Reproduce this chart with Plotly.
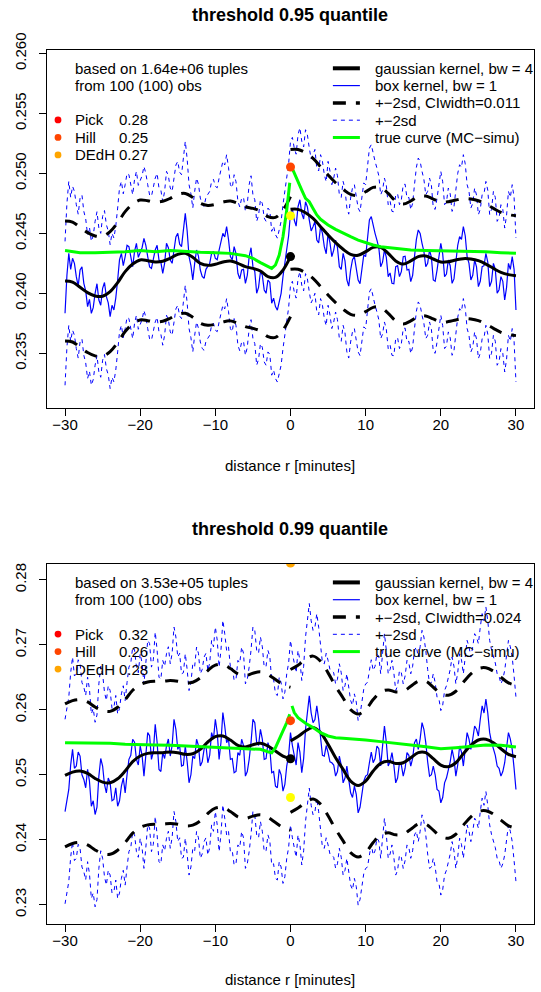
import numpy as np
import plotly.graph_objects as go

# ---------------- data ----------------
# box-kernel estimate is read at every 0.25 minute: values on the half-minute grid
# and the values half-way between them (read separately)
r_box = np.linspace(-30, 30, 241)
r_gl = list(range(-30, 1))
r_gr = list(range(0, 31))

# ===== threshold 0.95 panel =====
box95_grid = [0.23833, 0.24333, 0.24292, 0.24139, 0.24194, 0.24083, 0.23889, 0.23833, 0.24000, 0.23944,
              0.24042, 0.23972, 0.23806, 0.23861, 0.24111, 0.24333, 0.24306, 0.24389, 0.24222, 0.24417,
              0.24333, 0.24458, 0.24306, 0.24208, 0.24361, 0.24278, 0.24167, 0.24417, 0.24278, 0.24361,
              0.24500, 0.24389, 0.24667, 0.24306, 0.24111, 0.24361, 0.24194, 0.24125, 0.24222, 0.24333,
              0.24292, 0.24361, 0.24500, 0.24556, 0.24306, 0.24389, 0.24167, 0.24194, 0.24083, 0.24306,
              0.24222, 0.24000, 0.24180, 0.24028, 0.24111, 0.23917, 0.23889, 0.23944, 0.24139, 0.24361,
              0.24667,
              0.24611, 0.24722, 0.24667, 0.24764, 0.24611, 0.24556, 0.24444, 0.24556, 0.24389, 0.24500,
              0.24306, 0.24444, 0.24222, 0.24333, 0.24111, 0.24194, 0.24306, 0.24111, 0.24194, 0.24306,
              0.24611, 0.24556, 0.24444, 0.24222, 0.24361, 0.24139, 0.24083, 0.24222, 0.24139, 0.24306,
              0.24194, 0.24097, 0.24306, 0.24528, 0.24417, 0.24222, 0.24361, 0.24111, 0.24194, 0.24417,
              0.24139, 0.24278, 0.24083, 0.24250, 0.24472, 0.24556, 0.24306, 0.24111, 0.24278, 0.24056,
              0.24222, 0.24333, 0.24056, 0.24250, 0.24000, 0.24139, 0.23944, 0.24250, 0.24306, 0.23861]
box95_mid = [0.24150, 0.24200, 0.24250, 0.24060, 0.24220, 0.24020, 0.23950, 0.23880, 0.24080, 0.23900,
             0.24090, 0.23920, 0.23900, 0.23960, 0.24280, 0.24230, 0.24400, 0.24300, 0.24350, 0.24300,
             0.24380, 0.24400, 0.24220, 0.24300, 0.24400, 0.24260, 0.24250, 0.24380, 0.24250, 0.24470,
             0.24410, 0.24550, 0.24520, 0.24230, 0.24250, 0.24310, 0.24140, 0.24200, 0.24250, 0.24350,
             0.24280, 0.24420, 0.24470, 0.24450, 0.24280, 0.24330, 0.24120, 0.24200, 0.24150, 0.24380,
             0.24180, 0.24050, 0.24150, 0.24000, 0.24090, 0.23960, 0.23860, 0.24000, 0.24250, 0.24480,
             0.24700, 0.24560, 0.24780, 0.24620, 0.24720, 0.24520, 0.24600, 0.24420, 0.24500, 0.24330,
             0.24420, 0.24360, 0.24380, 0.24200, 0.24270, 0.24060, 0.24280, 0.24200, 0.24080, 0.24320,
             0.24450, 0.24640, 0.24500, 0.24380, 0.24260, 0.24300, 0.24170, 0.24080, 0.24230, 0.24180,
             0.24310, 0.24200, 0.24150, 0.24450, 0.24500, 0.24350, 0.24250, 0.24300, 0.24100, 0.24320,
             0.24330, 0.24160, 0.24230, 0.24120, 0.24400, 0.24450, 0.24480, 0.24250, 0.24150, 0.24220,
             0.24100, 0.24230, 0.24260, 0.24100, 0.24200, 0.24030, 0.24100, 0.24050, 0.24200, 0.24200]
box95_sd = 0.0030
gauss95_l = [0.24103, 0.24094, 0.24050, 0.24006, 0.23978, 0.23975, 0.24014, 0.24089, 0.24181, 0.24244,
             0.24278, 0.24272, 0.24261, 0.24267, 0.24292, 0.24325, 0.24333, 0.24300, 0.24250, 0.24233,
             0.24242, 0.24261, 0.24270, 0.24250, 0.24222, 0.24208, 0.24186, 0.24139, 0.24133, 0.24194,
             0.24306]
gauss95_r = [0.24700, 0.24700, 0.24672, 0.24625, 0.24556, 0.24486, 0.24422, 0.24367, 0.24325, 0.24317,
             0.24347, 0.24383, 0.24383, 0.24333, 0.24270, 0.24244, 0.24270, 0.24306, 0.24311, 0.24286,
             0.24261, 0.24264, 0.24278, 0.24289, 0.24286, 0.24272, 0.24244, 0.24208, 0.24175, 0.24156,
             0.24147]
gauss95_sd = 0.0025
true95_lx = [-30, -28, -26, -24, -22, -20, -18, -16, -14, -12, -10, -8, -6, -5, -4, -3, -2.5, -2, -1.5, -1, -0.5, -0.1]
true95_ly = [0.24356, 0.24339, 0.24339, 0.24342, 0.24347, 0.24356, 0.24347, 0.24356, 0.24347, 0.24342,
             0.24339, 0.24333, 0.24314, 0.24292, 0.24256, 0.24222, 0.24208, 0.24236, 0.24319, 0.24472,
             0.24694, 0.24922]
true95_rx = [0.1, 0.5, 1, 1.5, 2, 2.5, 3, 3.5, 4, 5, 6, 7, 8, 9, 10, 11, 12, 13, 14, 16, 18, 20, 22, 24, 26, 28, 30]
true95_ry = [0.25060, 0.25000, 0.24930, 0.24861, 0.24792, 0.24764, 0.24708, 0.24653, 0.24617, 0.24570,
             0.24533, 0.24500, 0.24472, 0.24444, 0.24422, 0.24403, 0.24389, 0.24381, 0.24372, 0.24361,
             0.24356, 0.24353, 0.24356, 0.24347, 0.24347, 0.24339, 0.24333]
pts95 = {"black": 0.24306, "#FFFF00": 0.24647, "#FF4500": 0.25053}

# ===== threshold 0.99 panel =====
box99_grid = [0.24434, 0.24774, 0.25391, 0.25134, 0.25288, 0.24928, 0.25082, 0.24516, 0.24388, 0.24979,
              0.25134, 0.24722, 0.24876, 0.24619, 0.24516, 0.24825, 0.24722, 0.25237, 0.25546, 0.25237,
              0.25443, 0.24979, 0.25648, 0.25237, 0.25777, 0.25082, 0.25340, 0.25443, 0.25288, 0.25854,
              0.25391, 0.25134, 0.25443, 0.24876, 0.25288, 0.25546, 0.25134, 0.25391, 0.25185, 0.25648,
              0.25854, 0.25237, 0.25957, 0.25494, 0.25237, 0.25031, 0.25340, 0.25546, 0.24979, 0.25237,
              0.25854, 0.25494, 0.25700, 0.25237, 0.25494, 0.25031, 0.24825, 0.25082, 0.24748, 0.25134,
              0.25648,
              0.25288, 0.25494, 0.25031, 0.25700, 0.26215, 0.25803, 0.26060, 0.25546, 0.25288, 0.25340,
              0.25185, 0.24979, 0.25288, 0.24876, 0.25134, 0.24722, 0.24825, 0.24413, 0.24722, 0.24979,
              0.25185, 0.25185, 0.25443, 0.25134, 0.25751, 0.25134, 0.25340, 0.24876, 0.25185, 0.24979,
              0.25340, 0.25134, 0.25494, 0.25391, 0.25803, 0.25494, 0.24979, 0.25134, 0.24774, 0.24568,
              0.24876, 0.25082, 0.25391, 0.24979, 0.25443, 0.25134, 0.25648, 0.25391, 0.25751, 0.25597,
              0.26060, 0.26163, 0.25648, 0.25391, 0.25134, 0.24979, 0.25185, 0.25648, 0.25391, 0.24774]
box99_mid = [0.24600, 0.25150, 0.25100, 0.25350, 0.25000, 0.24800, 0.24900, 0.24600, 0.24500, 0.25250,
             0.24850, 0.24950, 0.24600, 0.24800, 0.24600, 0.24950, 0.25000, 0.25300, 0.25500, 0.25150,
             0.25300, 0.25300, 0.25600, 0.25350, 0.25500, 0.25050, 0.25250, 0.25550, 0.25450, 0.25700,
             0.25450, 0.25150, 0.25200, 0.25000, 0.25250, 0.25450, 0.25200, 0.25450, 0.25300, 0.25550,
             0.25650, 0.25500, 0.25750, 0.25550, 0.25250, 0.25050, 0.25300, 0.25450, 0.25050, 0.25500,
             0.25800, 0.25450, 0.25550, 0.25250, 0.25400, 0.25050, 0.24800, 0.25000, 0.24850, 0.25300,
             0.25450, 0.25150, 0.25350, 0.25250, 0.25950, 0.25950, 0.25850, 0.25850, 0.25300, 0.25450,
             0.25200, 0.25150, 0.25050, 0.25150, 0.24950, 0.24900, 0.24650, 0.24700, 0.24500, 0.24900,
             0.25000, 0.25350, 0.25250, 0.25400, 0.25400, 0.25500, 0.25200, 0.25150, 0.24950, 0.25150,
             0.25100, 0.25300, 0.25250, 0.25550, 0.25550, 0.25700, 0.25200, 0.25000, 0.25000, 0.24750,
             0.24650, 0.24950, 0.25200, 0.25250, 0.25150, 0.25350, 0.25350, 0.25550, 0.25550, 0.25700,
             0.25850, 0.25950, 0.25950, 0.25500, 0.25300, 0.25100, 0.25050, 0.25450, 0.25550, 0.25100]
box99_sd = 0.0071
gauss99_l = [0.24990, 0.25041, 0.25057, 0.25021, 0.24943, 0.24887, 0.24876, 0.24938, 0.25057, 0.25201,
             0.25288, 0.25329, 0.25340, 0.25340, 0.25350, 0.25340, 0.25314, 0.25324, 0.25391, 0.25504,
             0.25587, 0.25597, 0.25535, 0.25453, 0.25427, 0.25463, 0.25484, 0.25443, 0.25365, 0.25288,
             0.25247]
gauss99_r = [0.25520, 0.25587, 0.25674, 0.25726, 0.25648, 0.25468, 0.25262, 0.25082, 0.24902, 0.24835,
             0.24902, 0.25057, 0.25175, 0.25206, 0.25175, 0.25185, 0.25262, 0.25340, 0.25340, 0.25247,
             0.25149, 0.25124, 0.25185, 0.25324, 0.25453, 0.25535, 0.25546, 0.25494, 0.25401, 0.25314,
             0.25278]
gauss99_sd = 0.0055
true99_lx = [-30, -28, -26, -24, -22, -20, -18, -16, -14, -12, -10, -8, -6, -4, -3, -2.5, -2, -1.5, -1, -0.5, -0.1]
true99_ly = [0.25494, 0.25494, 0.25484, 0.25484, 0.25468, 0.25468, 0.25458, 0.25453, 0.25443, 0.25432,
             0.25417, 0.25407, 0.25401, 0.25391, 0.25355, 0.25340, 0.25417, 0.25556, 0.25674, 0.25803,
             0.25932]
true99_rx = [0.2, 0.5, 1, 2, 3, 4, 5, 6, 7, 8, 10, 12, 14, 16, 18, 20, 22, 24, 26, 28, 30]
true99_ry = [0.26060, 0.25957, 0.25880, 0.25793, 0.25726, 0.25648, 0.25597, 0.25571, 0.25561, 0.25556,
             0.25535, 0.25510, 0.25479, 0.25458, 0.25432, 0.25401, 0.25417, 0.25443, 0.25458, 0.25453,
             0.25427]
pts99 = {"black": 0.25247, "#FFFF00": 0.24650, "#FF4500": 0.25833, "#FFA500": 0.28260}


def merge(grid, mid):
    out = np.empty(len(grid) + len(mid))
    out[0::2] = grid
    out[1::2] = mid
    return out


panels = [
    dict(title="threshold 0.95 quantile", box=merge(box95_grid, box95_mid), bsd=box95_sd,
         gl=gauss95_l, gr=gauss95_r, gsd=gauss95_sd, tlx=true95_lx, tly=true95_ly,
         trx=true95_rx, trY=true95_ry, pts=pts95,
         info=["based on 1.64e+06 tuples", "from 100 (100) obs"],
         est=[("Pick", "0.28"), ("Hill", "0.25"), ("DEdH", "0.27")], ciw="0.011"),
    dict(title="threshold 0.99 quantile", box=merge(box99_grid, box99_mid), bsd=box99_sd,
         gl=gauss99_l, gr=gauss99_r, gsd=gauss99_sd, tlx=true99_lx, tly=true99_ly,
         trx=true99_rx, trY=true99_ry, pts=pts99,
         info=["based on 3.53e+05 tuples", "from 100 (100) obs"],
         est=[("Pick", "0.32"), ("Hill", "0.26"), ("DEdH", "0.28")], ciw="0.024"),
]
est_colors = ["#FF0000", "#FF4500", "#FFA500"]

# ---------------- layout geometry (pixels) ----------------
W, H = 541, 992
L, R, T, B = 47.3, 534.0, 50.0, 924.3
PW, PH = R - L, B - T


def px(x):
    return (x - L) / PW


def py(y):
    return (B - y) / PH


FONT = "Liberation Sans, Arial, Helvetica, sans-serif"
FS = 15
fig = go.Figure()

blue_dash = "4px,4px"
black_dash = "13px,10px"

offsets = [0, 514.3]  # vertical pixel offset of second panel
for i, p in enumerate(panels):
    xa = "x" if i == 0 else "x2"
    ya = "y" if i == 0 else "y2"
    box = np.array(p["box"])
    up = box + 2 * p["bsd"]
    lo = box - 2 * p["bsd"]
    for band in (up, lo):
        fig.add_trace(go.Scatter(x=r_box, y=band, mode="lines", xaxis=xa, yaxis=ya,
                                 line=dict(color="#0000FF", width=1, dash=blue_dash), hoverinfo="skip"))
    fig.add_trace(go.Scatter(x=r_box, y=box, mode="lines", xaxis=xa, yaxis=ya,
                             line=dict(color="#0000FF", width=1.2), hoverinfo="skip"))
    gx = r_gl + [None] + r_gr
    gl = np.array(p["gl"])
    gr = np.array(p["gr"])
    for sgn in (1, -1):
        gy = list(gl + sgn * 2 * p["gsd"]) + [None] + list(gr + sgn * 2 * p["gsd"])
        fig.add_trace(go.Scatter(x=gx, y=gy, mode="lines", xaxis=xa, yaxis=ya, connectgaps=False,
                                 line=dict(color="black", width=3, dash=black_dash, shape="spline"),
                                 hoverinfo="skip"))
    fig.add_trace(go.Scatter(x=gx, y=list(gl) + [None] + list(gr), mode="lines", xaxis=xa, yaxis=ya,
                             connectgaps=False, line=dict(color="black", width=3, shape="spline"),
                             hoverinfo="skip"))
    tx = p["tlx"] + [None] + p["trx"]
    ty = p["tly"] + [None] + p["trY"]
    fig.add_trace(go.Scatter(x=tx, y=ty, mode="lines", xaxis=xa, yaxis=ya, connectgaps=False,
                             line=dict(color="#00FF00", width=3), hoverinfo="skip"))
    for col, val in p["pts"].items():
        fig.add_trace(go.Scatter(x=[0], y=[val], mode="markers", xaxis=xa, yaxis=ya,
                                 marker=dict(color=col, size=9, line=dict(width=0)), hoverinfo="skip"))

    dy = offsets[i]
    # title
    fig.add_annotation(x=px(290.5), y=py(15 + dy), xref="paper", yref="paper", showarrow=False,
                       text="<b>" + p["title"] + "</b>", font=dict(family=FONT, size=18, color="black"),
                       xanchor="center", yanchor="middle")
    # x axis title
    fig.add_annotation(x=px(290.5), y=py(465.7 + dy), xref="paper", yref="paper", showarrow=False,
                       text="distance r [minutes]", font=dict(family=FONT, size=FS, color="black"),
                       xanchor="center", yanchor="middle")
    # left legend block
    for k, t in enumerate(p["info"]):
        fig.add_annotation(x=px(73.4), y=py(68.3 + 17.4 * k + dy), xref="paper", yref="paper",
                           showarrow=False, text=t, font=dict(family=FONT, size=FS, color="black"),
                           xanchor="left", yanchor="middle")
    for k, (nm, v) in enumerate(p["est"]):
        yy = 120 + 17.5 * k + dy
        fig.add_shape(type="circle", xref="paper", yref="paper",
                      x0=px(58.3 - 3.4), x1=px(58.3 + 3.4), y0=py(yy + 3.4), y1=py(yy - 3.4),
                      fillcolor=est_colors[k], line=dict(width=0))
        fig.add_annotation(x=px(73.4), y=py(yy), xref="paper", yref="paper", showarrow=False,
                           text=nm, font=dict(family=FONT, size=FS, color="black"),
                           xanchor="left", yanchor="middle")
        fig.add_annotation(x=px(117.5), y=py(yy), xref="paper", yref="paper", showarrow=False,
                           text=v, font=dict(family=FONT, size=FS, color="black"),
                           xanchor="left", yanchor="middle")
    # right legend block
    leg = [("gaussian kernel, bw = 4", "black", 4, "solid"),
           ("box kernel, bw = 1", "#0000FF", 1.2, "solid"),
           ("+\u22122sd, CIwidth=" + p["ciw"], "black", 3.5, black_dash),
           ("+\u22122sd", "#0000FF", 1, blue_dash),
           ("true curve (MC\u2212simu)", "#00FF00", 3, "solid")]
    for k, (t, c, w, d) in enumerate(leg):
        yy = 68.3 + 17.3 * k + dy
        fig.add_shape(type="line", xref="paper", yref="paper", x0=px(333), x1=px(360),
                      y0=py(yy), y1=py(yy), line=dict(color=c, width=w, dash=d))
        fig.add_annotation(x=px(373.1), y=py(yy), xref="paper", yref="paper", showarrow=False,
                           text=t, font=dict(family=FONT, size=FS, color="black"),
                           xanchor="left", yanchor="middle")

axis_common = dict(showline=True, mirror=True, linecolor="black", linewidth=1, ticks="outside",
                   ticklen=7, tickcolor="black", tickwidth=1, showgrid=False, zeroline=False,
                   automargin=False, tickfont=dict(family=FONT, size=FS, color="black"))
xt = dict(tickvals=[-30, -20, -10, 0, 10, 20, 30], range=[-32.4, 32.4], ticklabelstandoff=-4)
fig.update_layout(
    width=W, height=H, margin=dict(l=L, r=W - R, t=T, b=H - B, pad=0, autoexpand=False),
    paper_bgcolor="white", plot_bgcolor="white", showlegend=False,
    xaxis=dict(domain=[0, 1], anchor="y", **xt, **axis_common),
    yaxis=dict(domain=[py(408.3), 1], anchor="x", range=[0.23042, 0.26029],
               tickvals=[0.235, 0.240, 0.245, 0.250, 0.255, 0.260], tickformat=".3f", tickangle=-90,
               ticklabelstandoff=7, **axis_common),
    xaxis2=dict(domain=[0, 1], anchor="y2", **xt, **axis_common),
    yaxis2=dict(domain=[0, py(564.3)], anchor="x2", range=[0.22703, 0.28242],
                tickvals=[0.23, 0.24, 0.25, 0.26, 0.27, 0.28], tickformat=".2f", tickangle=-90,
                ticklabelstandoff=7, **axis_common),
)
fig.write_html("out.html", config={"displayModeBar": False},
               post_script="document.body.style.margin='0px';document.body.style.padding='0px';")
